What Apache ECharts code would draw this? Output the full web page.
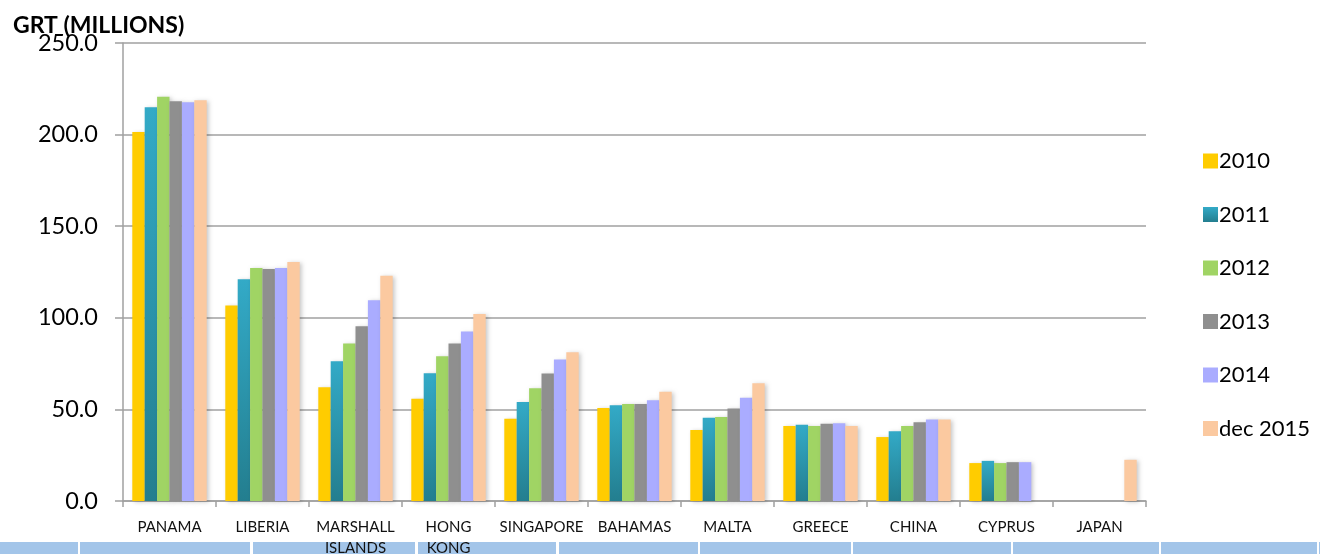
<!DOCTYPE html>
<html><head><meta charset="utf-8">
<script src="https://cdn.jsdelivr.net/npm/echarts@6/dist/echarts.min.js"></script>
<style>html,body{margin:0;padding:0;background:#fff}#c{width:1320px;height:554px}</style>
</head><body><div id="c"></div>
<script>
const categories = ["PANAMA","LIBERIA","MARSHALL ISLANDS","HONG KONG","SINGAPORE","BAHAMAS","MALTA","GREECE","CHINA","CYPRUS","JAPAN"];
const seriesNames = ["2010","2011","2012","2013","2014","dec 2015"];
const v2010 = [201.4,106.7,62.1,55.8,44.9,50.7,38.7,41.0,34.9,20.7,null];
const v2011 = [214.9,121.1,76.3,69.8,54.0,52.3,45.4,41.6,38.1,21.9,null];
const v2012 = [220.7,127.2,86.0,79.0,61.6,52.9,45.9,41.0,41.0,20.7,null];
const v2013 = [218.2,126.7,95.4,86.0,69.6,52.9,50.5,42.1,43.0,21.2,null];
const v2014 = [217.6,127.2,109.6,92.5,77.2,55.0,56.3,42.5,44.5,21.2,null];
const vDec2015 = [218.7,130.5,122.9,102.1,81.2,59.6,64.3,41.0,44.5,null,22.5];
const yTicks = {min:0, max:250, interval:50};

const values = [v2010,v2011,v2012,v2013,v2014,vDec2015];
const colors = [
  '#FFCC00',
  new echarts.graphic.LinearGradient(0,0,0,1,[{offset:0,color:'#33AAC7'},{offset:1,color:'#237E8F'}]),
  '#A0D464',
  '#8F8F8F',
  '#AAACFF',
  '#FBC9A0'
];
const chart = echarts.init(document.getElementById('c'), null, {renderer:'canvas'});
const font = 'Lato, "Open Sans", sans-serif';
const stripXs = [[0,78],[80,250],[253,415],[418,556],[559,698],[700,851],[853,1011],[1013,1159],[1161,1317],[1319,1320]];
chart.setOption({
  animation:false,
  textStyle:{fontFamily:font},
  title:{text:'GRT (MILLIONS)', left:8, top:9, textStyle:{fontFamily:font, fontWeight:'bold', fontSize:23, color:'#000'}},
  grid:{left:123, right:174, top:43, bottom:53, containLabel:false, outerBoundsMode:'none'},
  legend:{
    orient:'vertical', left:1198, top:145, itemWidth:15, itemHeight:15, itemGap:31.5,
    icon:'rect',
    textStyle:{fontFamily:font, fontSize:22, color:'#000', lineHeight:20, padding:[0,0,0,-4]},
    data:seriesNames
  },
  xAxis:{
    type:'category', data:categories,
    axisLine:{lineStyle:{color:'#A0A0A0', width:1.5}},
    axisTick:{show:true, length:6, lineStyle:{color:'#A0A0A0', width:1.5}},
    axisLabel:{fontFamily:font, fontSize:15, color:'#111', margin:16, lineHeight:21, interval:0,
      formatter:v=>v.replace(' ','\n')}
  },
  yAxis:{
    type:'value', min:yTicks.min, max:yTicks.max, interval:yTicks.interval,
    axisLine:{show:true, lineStyle:{color:'#A0A0A0', width:1.5}},
    axisTick:{show:true, length:8, lineStyle:{color:'#A0A0A0', width:1.5}},
    splitLine:{lineStyle:{color:'#A0A0A0', width:1.5}},
    axisLabel:{fontFamily:font, fontSize:23.5, color:'#000', margin:25, formatter:v=>v.toFixed(1)}
  },
  graphic: stripXs.map(([a,b])=>({type:'rect', shape:{x:a,y:542,width:b-a,height:12}, style:{fill:'#A3C5E9'}, silent:true})),
  series: seriesNames.map((n,i)=>({
    name:n, type:'bar', data:values[i], barGap:'0%', barCategoryGap:'20%',
    itemStyle:{color:colors[i], shadowBlur:4, shadowColor:'rgba(0,0,0,0.22)', shadowOffsetX:2, shadowOffsetY:1}
  }))
});
</script></body></html>
